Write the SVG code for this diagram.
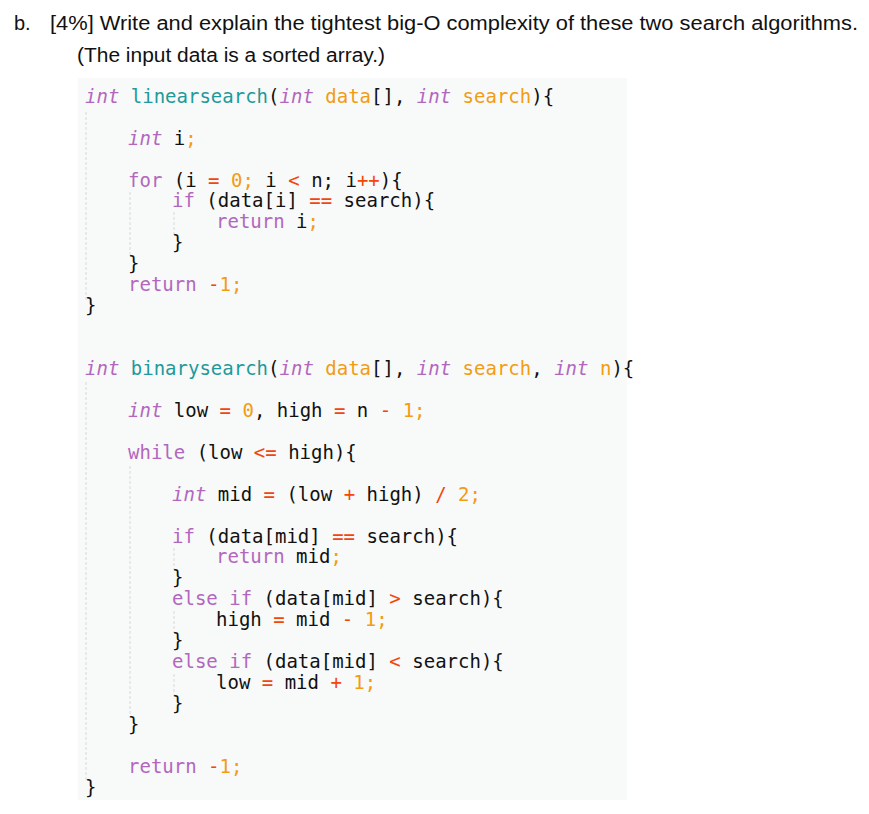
<svg xmlns="http://www.w3.org/2000/svg" width="869" height="814" viewBox="0 0 869 814">
<style>
.h{font-family:"Liberation Sans",Arial,sans-serif;font-size:20px;fill:#111}
.c{font-family:"DejaVu Sans Mono",monospace;font-size:19px;fill:#111;white-space:pre}
.k{fill:#b267be}.i{fill:#b267be;font-style:italic}.f{fill:#1e9a9a}.p{fill:#f39c12}.o{fill:#f2460a}.n{fill:#f39c12}
.g{stroke:#d8d8d8;stroke-width:1;stroke-dasharray:3 2}
</style>
<rect width="869" height="814" fill="#fff"/>
<text class="h" x="14" y="30">b.</text>
<text class="h" x="50" y="30" textLength="808" lengthAdjust="spacingAndGlyphs">[4%] Write and explain the tightest big-O complexity of these two search algorithms.</text>
<text class="h" x="77" y="62" textLength="308" lengthAdjust="spacingAndGlyphs">(The input data is a sorted array.)</text>
<rect x="78" y="78" width="549" height="722" fill="#f8f9f9"/>
<g id="guides">
<line class="g" x1="86" y1="112" x2="86" y2="300"/>
<line class="g" x1="130" y1="192" x2="130" y2="256"/>
<line class="g" x1="174" y1="212" x2="174" y2="236"/>
<line class="g" x1="86" y1="382" x2="86" y2="780"/>
<line class="g" x1="130" y1="466" x2="130" y2="718"/>
<line class="g" x1="174" y1="548" x2="174" y2="570"/>
<line class="g" x1="174" y1="611" x2="174" y2="633"/>
<line class="g" x1="174" y1="674" x2="174" y2="696"/>
</g>
<g id="linearsearch" class="c" xml:space="preserve">
<text x="85" y="103"><tspan class="i">int</tspan> <tspan class="f">linearsearch</tspan>(<tspan class="i">int</tspan> <tspan class="p">data</tspan>[], <tspan class="i">int</tspan> <tspan class="p">search</tspan>){</text>
<text x="128" y="145"><tspan class="i">int</tspan> i<tspan class="n">;</tspan></text>
<text x="128" y="187"><tspan class="k">for</tspan> (i <tspan class="o">=</tspan> <tspan class="n">0</tspan><tspan class="n">;</tspan> i <tspan class="o">&lt;</tspan> n; i<tspan class="o">++</tspan>){</text>
<text x="172" y="207"><tspan class="k">if</tspan> (data[i] <tspan class="o">==</tspan> search){</text>
<text x="216" y="228"><tspan class="k">return</tspan> i<tspan class="n">;</tspan></text>
<text x="172" y="249">}</text>
<text x="128" y="270">}</text>
<text x="128" y="291"><tspan class="k">return</tspan> <tspan class="o">-</tspan><tspan class="n">1;</tspan></text>
<text x="85" y="312">}</text>
</g>
<g id="binarysearch" class="c" xml:space="preserve">
<text x="85" y="375"><tspan class="i">int</tspan> <tspan class="f">binarysearch</tspan>(<tspan class="i">int</tspan> <tspan class="p">data</tspan>[], <tspan class="i">int</tspan> <tspan class="p">search</tspan>, <tspan class="i">int</tspan> <tspan class="p">n</tspan>){</text>
<text x="128" y="417"><tspan class="i">int</tspan> low <tspan class="o">=</tspan> <tspan class="n">0</tspan>, high <tspan class="o">=</tspan> n <tspan class="o">-</tspan> <tspan class="n">1;</tspan></text>
<text x="128" y="459"><tspan class="k">while</tspan> (low <tspan class="o">&lt;=</tspan> high){</text>
<text x="172" y="501"><tspan class="i">int</tspan> mid <tspan class="o">=</tspan> (low <tspan class="o">+</tspan> high) <tspan class="o">/</tspan> <tspan class="n">2;</tspan></text>
<text x="172" y="543"><tspan class="k">if</tspan> (data[mid] <tspan class="o">==</tspan> search){</text>
<text x="216" y="563"><tspan class="k">return</tspan> mid<tspan class="n">;</tspan></text>
<text x="172" y="584">}</text>
<text x="172" y="605"><tspan class="k">else if</tspan> (data[mid] <tspan class="o">&gt;</tspan> search){</text>
<text x="216" y="626">high <tspan class="o">=</tspan> mid <tspan class="o">-</tspan> <tspan class="n">1;</tspan></text>
<text x="172" y="647">}</text>
<text x="172" y="668"><tspan class="k">else if</tspan> (data[mid] <tspan class="o">&lt;</tspan> search){</text>
<text x="216" y="689">low <tspan class="o">=</tspan> mid <tspan class="o">+</tspan> <tspan class="n">1;</tspan></text>
<text x="172" y="710">}</text>
<text x="128" y="731">}</text>
<text x="128" y="773"><tspan class="k">return</tspan> <tspan class="o">-</tspan><tspan class="n">1;</tspan></text>
<text x="85" y="794">}</text>
</g>
</svg>
